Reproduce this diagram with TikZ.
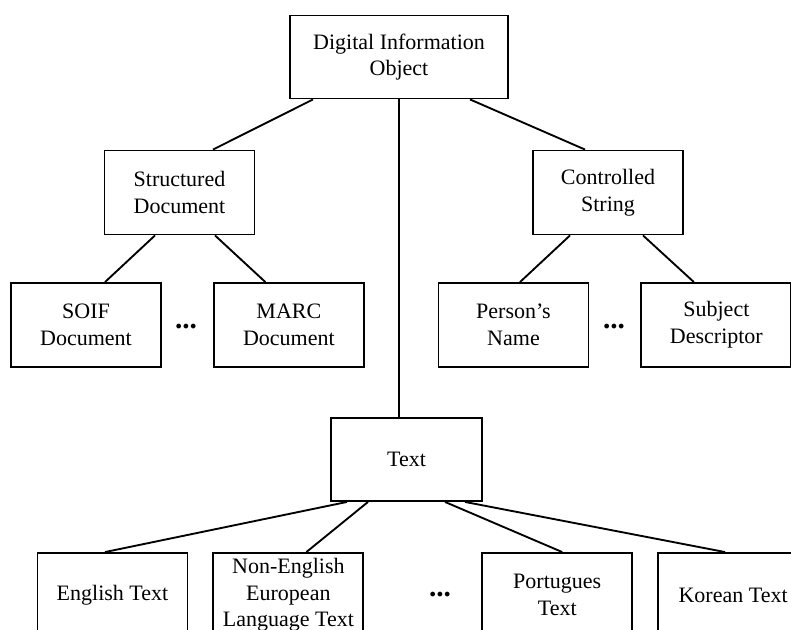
\documentclass[tikz,border=0pt]{standalone}
\usepackage{fontspec}
\setmainfont{Liberation Serif}
\usetikzlibrary{calc,positioning}

\begin{document}
\begin{tikzpicture}[
    x=0.75pt, y=-0.75pt,
    node distance=38.25pt,
    every node/.style={font=\fontsize{16.5}{20}\selectfont,align=center},
    box/.style={draw=black,line width=1.4pt,minimum width=112.5pt,minimum height=63pt,inner sep=2pt},
    topbox/.style={box,minimum width=163pt,minimum height=62.25pt},
    link/.style={line width=1.4pt},
    more/.style={font=\fontsize{22}{22}\selectfont\bfseries,inner sep=0pt}
]
\useasboundingbox (0,0) rectangle (791,630);
\clip (0,0) rectangle (791,630);

% root and second level
\node[topbox] (doi) at (399,57) {Digital Information\\Object};
\node[box] (struct) at (179.5,192.5) {Structured\\Document};
\node[box] (ctrl) at (608,192.5) {Controlled\\String};

% leaves under the two branches
\node[box] (soif) at (86,325) {SOIF\\Document};
\node[box,right=of soif] (marc) {MARC\\Document};
\node[box] (person) at (513.5,325) {Person's\\Name};
\node[box,right=of person] (subject) {Subject\\Descriptor};
\node[more] (dotsa) at (186,327) {...};
\node[more] (dotsb) at (614,327) {...};

% text branch
\node[box,minimum width=113.25pt,minimum height=62.25pt] (text) at (406.5,459.5) {Text};
\node[box] (english) at (112.5,595) {English Text};
\node[box,right=18pt of english] (noneng) {Non-English\\European\\Language Text};
\node[box,right=87.75pt of noneng] (portug) {Portugues\\Text};
\node[box,right=18pt of portug] (korean) {Korean Text};
\node[more] (dotsc) at (440,595) {...};

\draw[link] ($(doi.south)+(-86,0)$) -- ($(struct.north)+(33.5,0)$);
\draw[link] ($(doi.south)+(71,0)$) -- ($(ctrl.north)+(-23,0)$);
\draw[link] (doi.south) -- (doi.south |- text.north);

\draw[link] ($(struct.south)+(-24.5,0)$) -- ($(soif.north)+(19,0)$);
\draw[link] ($(struct.south)+(35.5,0)$) -- ($(marc.north)+(-23.5,0)$);
\draw[link] ($(ctrl.south)+(-38,0)$) -- ($(person.north)+(6.5,0)$);
\draw[link] ($(ctrl.south)+(35,0)$) -- ($(subject.north)+(-22.5,0)$);

\draw[link] ($(text.south)+(-59.5,0)$) -- ($(english.north)+(-7.5,0)$);
\draw[link] ($(text.south)+(-38.5,0)$) -- ($(noneng.north)+(18,0)$);
\draw[link] ($(text.south)+(38.5,0)$) -- ($(portug.north)+(5,0)$);
\draw[link] ($(text.south)+(58.5,0)$) -- ($(korean.north)+(-8,0)$);
\end{tikzpicture}
\end{document}
